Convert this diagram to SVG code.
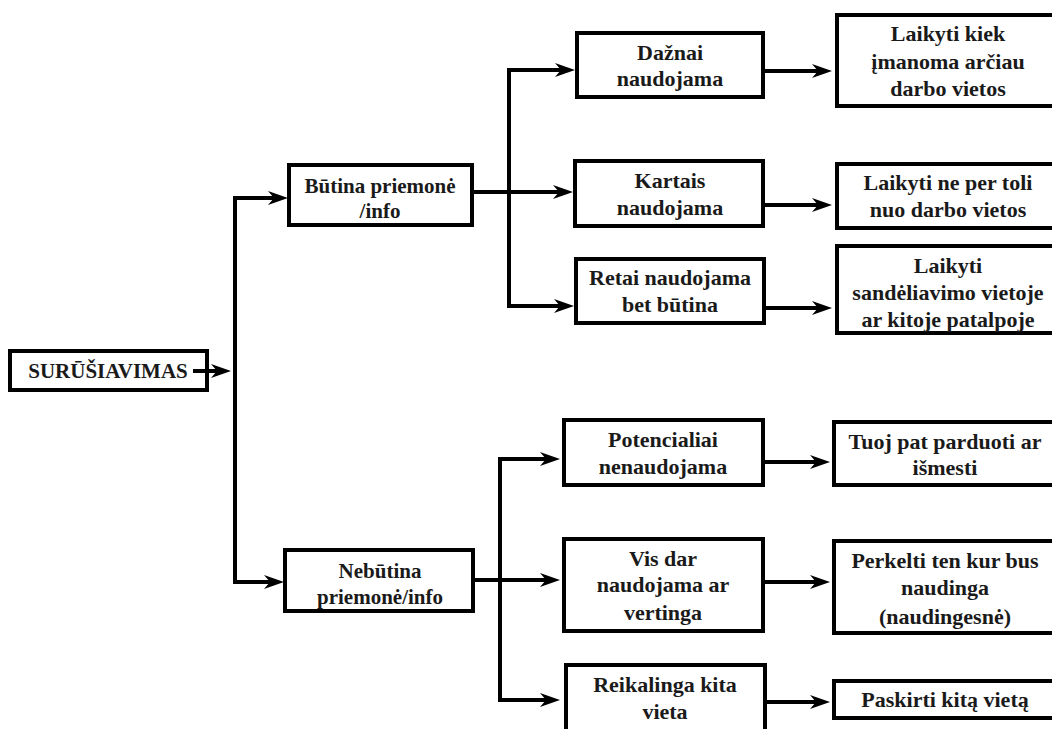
<svg xmlns="http://www.w3.org/2000/svg" width="1052" height="729" viewBox="0 0 1052 729">
<style>
.box{fill:#fff;stroke:#000;stroke-width:4}
text{font-family:'Liberation Serif','DejaVu Serif',serif;font-weight:700;font-size:22px;fill:#1a1a1a;text-anchor:middle}
.s{font-size:21px}
.c{fill:none;stroke:#000;stroke-width:4}
.a{fill:none;stroke:#000;stroke-width:4;marker-end:url(#ah)}
</style>
<defs>
<marker id="ah" viewBox="0 0 20 14" refX="9" refY="7" markerWidth="20" markerHeight="14" markerUnits="userSpaceOnUse" orient="auto">
<path d="M0,0 L20,7 L0,14 L6,7 Z" fill="#000"/>
</marker>
</defs>
<rect width="1052" height="729" fill="#fff"/>
<g id="root">
<rect class="box" x="10" y="351" width="197" height="39"/>
<text class="s" x="108" y="378">SURŪŠIAVIMAS</text>
</g>
<g id="butina">
<rect class="box" x="289" y="165" width="183" height="60"/>
<text class="s" x="380" y="193">Būtina priemonė</text>
<text class="s" x="380" y="218">/info</text>
</g>
<g id="nebutina">
<rect class="box" x="285" y="550" width="188" height="61"/>
<text class="s" x="380" y="578">Nebūtina</text>
<text class="s" x="380" y="604">priemonė/info</text>
</g>
<g id="daznai">
<rect class="box" x="577" y="33" width="186" height="64"/>
<text x="670" y="60">Dažnai</text>
<text x="670" y="86">naudojama</text>
</g>
<g id="kartais">
<rect class="box" x="575" y="161" width="188" height="65"/>
<text x="670" y="188">Kartais</text>
<text x="670" y="215">naudojama</text>
</g>
<g id="retai">
<rect class="box" x="576" y="259" width="188" height="64"/>
<text x="670" y="285">Retai naudojama</text>
<text x="670" y="312">bet būtina</text>
</g>
<g id="laikyti1">
<rect class="box" x="837" y="15" width="230" height="91"/>
<text x="948" y="41">Laikyti kiek</text>
<text x="948" y="69">įmanoma arčiau</text>
<text x="948" y="96">darbo vietos</text>
</g>
<g id="laikyti2">
<rect class="box" x="837" y="164" width="230" height="64"/>
<text x="948" y="190">Laikyti ne per toli</text>
<text x="948" y="217">nuo darbo vietos</text>
</g>
<g id="laikyti3">
<rect class="box" x="837" y="246" width="230" height="87"/>
<text x="948" y="273">Laikyti</text>
<text x="948" y="300">sandėliavimo vietoje</text>
<text x="948" y="327">ar kitoje patalpoje</text>
</g>
<g id="potencialiai">
<rect class="box" x="564" y="420" width="199" height="65"/>
<text x="663" y="447">Potencialiai</text>
<text x="663" y="474">nenaudojama</text>
</g>
<g id="visdar">
<rect class="box" x="564" y="539" width="199" height="92"/>
<text x="663" y="566">Vis dar</text>
<text x="663" y="592">naudojama ar</text>
<text x="663" y="620">vertinga</text>
</g>
<g id="reikalinga">
<rect class="box" x="566" y="665" width="199" height="80"/>
<text x="665" y="692">Reikalinga kita</text>
<text x="665" y="719">vieta</text>
</g>
<g id="tuoj">
<rect class="box" x="834" y="422" width="230" height="63"/>
<text x="945" y="449">Tuoj pat parduoti ar</text>
<text x="945" y="475">išmesti</text>
</g>
<g id="perkelti">
<rect class="box" x="834" y="541" width="230" height="92"/>
<text x="945" y="568">Perkelti ten kur bus</text>
<text x="945" y="595">naudinga</text>
<text x="945" y="624">(naudingesnė)</text>
</g>
<g id="paskirti">
<rect class="box" x="834" y="681" width="230" height="37"/>
<text x="945" y="707">Paskirti kitą vietą</text>
</g>
<g id="connectors">
<line class="a" x1="193" y1="371" x2="220" y2="371"/>
<polyline class="c" points="255,198 235,198 235,582 255,582"/>
<line class="a" x1="253" y1="198" x2="277" y2="198"/>
<line class="a" x1="253" y1="582" x2="273" y2="582"/>
<line class="c" x1="472" y1="192" x2="511" y2="192"/>
<polyline class="c" points="530,70 509,70 509,306 530,306"/>
<line class="a" x1="528" y1="70" x2="564" y2="70"/>
<line class="a" x1="509" y1="192" x2="562" y2="192"/>
<line class="a" x1="528" y1="306" x2="563" y2="306"/>
<line class="a" x1="765" y1="71" x2="821" y2="71"/>
<line class="a" x1="765" y1="205" x2="821" y2="205"/>
<line class="a" x1="766" y1="308" x2="821" y2="308"/>
<line class="c" x1="475" y1="580" x2="502" y2="580"/>
<polyline class="c" points="520,459 500,459 500,700 520,700"/>
<line class="a" x1="518" y1="459" x2="549" y2="459"/>
<line class="a" x1="500" y1="580" x2="549" y2="580"/>
<line class="a" x1="518" y1="700" x2="549" y2="700"/>
<line class="a" x1="765" y1="462" x2="819" y2="462"/>
<line class="a" x1="765" y1="582" x2="819" y2="582"/>
<line class="a" x1="767" y1="702" x2="819" y2="702"/>
</g>
</svg>
